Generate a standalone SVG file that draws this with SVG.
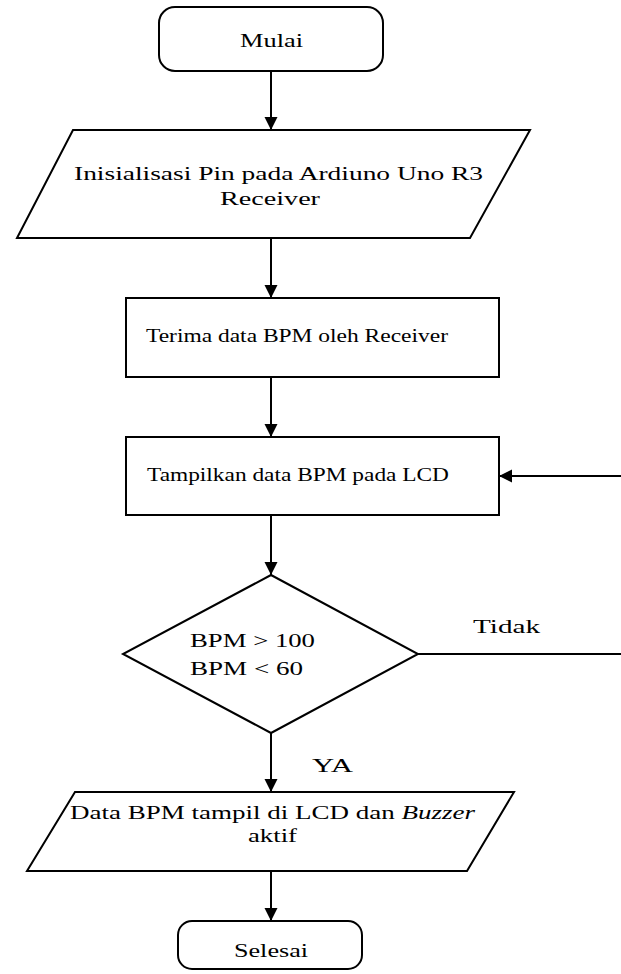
<svg xmlns="http://www.w3.org/2000/svg" width="621" height="974" viewBox="0 0 621 974">
<style>
.s{fill:#fff;stroke:#000;stroke-width:2}
.c{fill:none;stroke:#000;stroke-width:2}
text{font-family:"Liberation Serif","Times New Roman",serif;font-size:19px;fill:#000}
</style>
<defs>
<marker id="ah" markerWidth="14" markerHeight="14" refX="13" refY="7" orient="auto" markerUnits="userSpaceOnUse">
<path d="M0,0.5 L13,7 L0,13.5 Z" fill="#000"/>
</marker>
</defs>
<rect width="621" height="974" fill="#fff"/>
<g id="connectors">
<line class="c" x1="271" y1="71" x2="271" y2="130" marker-end="url(#ah)"/>
<line class="c" x1="271" y1="238" x2="271" y2="298" marker-end="url(#ah)"/>
<line class="c" x1="271" y1="377" x2="271" y2="437" marker-end="url(#ah)"/>
<line class="c" x1="271" y1="515" x2="271" y2="575" marker-end="url(#ah)"/>
<line class="c" x1="271" y1="733" x2="271" y2="792" marker-end="url(#ah)"/>
<line class="c" x1="271" y1="871" x2="271" y2="921" marker-end="url(#ah)"/>
<line class="c" x1="418" y1="654" x2="621" y2="654"/>
<line class="c" x1="621" y1="476" x2="499" y2="476" marker-end="url(#ah)"/>
<text x="473" y="633" textLength="67" lengthAdjust="spacingAndGlyphs">Tidak</text>
<text x="312" y="772" textLength="41" lengthAdjust="spacingAndGlyphs">YA</text>
</g>
<g id="mulai">
<rect class="s" x="159" y="7" width="224" height="64" rx="16"/>
<text x="240" y="47" textLength="63" lengthAdjust="spacingAndGlyphs">Mulai</text>
</g>
<g id="inisialisasi">
<polygon class="s" points="73,130 530,130 470,238 17,238"/>
<text x="74" y="180" textLength="409" lengthAdjust="spacingAndGlyphs">Inisialisasi Pin pada Ardiuno Uno R3</text>
<text x="220" y="205" textLength="100" lengthAdjust="spacingAndGlyphs">Receiver</text>
</g>
<g id="terima">
<rect class="s" x="126" y="298" width="373" height="79"/>
<text x="146" y="342" textLength="302" lengthAdjust="spacingAndGlyphs">Terima data BPM oleh Receiver</text>
</g>
<g id="tampilkan">
<rect class="s" x="126" y="437" width="373" height="78"/>
<text x="147" y="481" textLength="302" lengthAdjust="spacingAndGlyphs">Tampilkan data BPM pada LCD</text>
</g>
<g id="decision">
<polygon class="s" points="271,575 418,654 271,733 123,654"/>
<text x="190" y="647" textLength="125" lengthAdjust="spacingAndGlyphs">BPM &gt; 100</text>
<text x="190" y="675" textLength="113" lengthAdjust="spacingAndGlyphs">BPM &lt; 60</text>
</g>
<g id="tampil">
<polygon class="s" points="75,792 514,792 467,871 27,871"/>
<text x="70" y="819" textLength="405" lengthAdjust="spacingAndGlyphs">Data BPM tampil di LCD dan <tspan font-style="italic">Buzzer</tspan></text>
<text x="248" y="842" textLength="49" lengthAdjust="spacingAndGlyphs">aktif</text>
</g>
<g id="selesai">
<rect class="s" x="178" y="921" width="184" height="48" rx="14"/>
<text x="234" y="957" textLength="74" lengthAdjust="spacingAndGlyphs">Selesai</text>
</g>
</svg>
